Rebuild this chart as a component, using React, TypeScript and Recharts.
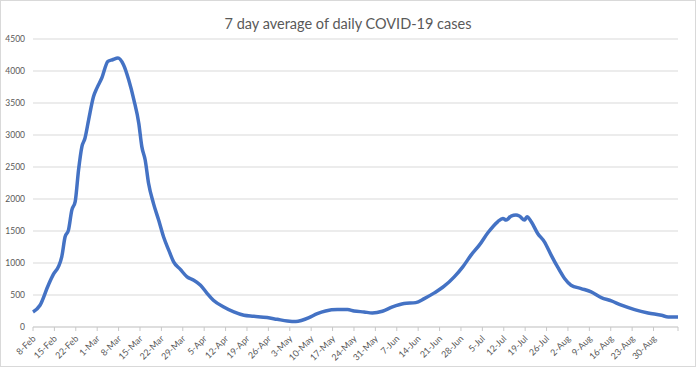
import { LineChart, Line, XAxis, YAxis, CartesianGrid } from "recharts";

// days since 8-Feb at roughly every 2-3 days
const dayOffset = [
  0, 2.3, 5, 6.7, 8.4, 9.4, 10.5, 11.6, 12.7, 13.8, 14.9, 16, 17, 18.2, 19.8,
  20.9, 22.5, 24.5, 26, 27.8, 29.6, 31.3, 33, 34.6, 35.6, 36.7, 37.8, 39.4,
  41.1, 42.7, 44.4, 46, 48.2, 50.4, 52.6, 54.8, 57, 59, 62.4, 65.7, 69, 72.2,
  76.6, 79.9, 83.2, 86, 88, 90.3, 93, 95.7, 99.6, 102.9, 105, 108.3, 111,
  114.3, 117.6, 121.4, 125.2, 128, 131.3, 134.5, 137.8, 140.6, 143.3, 146,
  148.8, 152, 153.7, 154.8, 156.4, 158, 159.1, 160.8, 161.6, 163, 165.1, 167.3,
  169.5, 171.7, 173.9, 176, 179.3, 182.6, 185.9, 189.2, 192.5, 196.8, 201.2,
  205.6, 207.8, 211,
];

const avgCases = [
  235, 340, 653, 825, 950, 1096, 1410, 1514, 1827, 1958, 2454, 2819, 2950,
  3237, 3602, 3733, 3890, 4150, 4176, 4203, 4098, 3863, 3550, 3185, 2819, 2610,
  2246, 1932, 1671, 1410, 1201, 1018, 900, 783, 731, 653, 523, 418, 313, 235,
  183, 168, 147, 120, 94, 85, 105, 147, 210, 251, 272, 272, 251, 235, 220, 246,
  313, 366, 381, 444, 533, 637, 783, 940, 1123, 1279, 1472, 1644, 1697, 1671,
  1734, 1749, 1734, 1671, 1723, 1644, 1462, 1331, 1123, 930, 758, 653, 601, 548,
  460, 407, 340, 272, 220, 183, 157, 157,
];

const tickLabels = [
  "8-Feb", "15-Feb", "22-Feb", "1-Mar", "8-Mar", "15-Mar", "22-Mar", "29-Mar",
  "5-Apr", "12-Apr", "19-Apr", "26-Apr", "3-May", "10-May", "17-May", "24-May",
  "31-May", "7-Jun", "14-Jun", "21-Jun", "28-Jun", "5-Jul", "12-Jul", "19-Jul",
  "26-Jul", "2-Aug", "9-Aug", "16-Aug", "23-Aug", "30-Aug",
];

const yTicks = [0, 500, 1000, 1500, 2000, 2500, 3000, 3500, 4000, 4500];

const lastDay = 211;

const data = dayOffset.map((d, i) => ({ day: d, cases: avgCases[i] }));
const xTicks = [...tickLabels.map((_, i) => i * 7), lastDay];

const font = "Lato, 'Open Sans', sans-serif";
const grey = "#595959";

// rotated date label, its right end sits just below the tick mark
function DateTick(props: any) {
  const { x, y, payload } = props;
  const label = tickLabels[payload.value / 7] ?? "";
  const px = x + 1;
  const py = y + 4;
  return (
    <text
      x={px}
      y={py}
      dy="0.35em"
      textAnchor="end"
      fontSize={9}
      fill={grey}
      fontFamily={font}
      transform={`rotate(-45, ${px}, ${py})`}
    >
      {label}
    </text>
  );
}

export default function App() {
  return (
    <div
      style={{
        position: "relative",
        width: 696,
        height: 367,
        boxSizing: "border-box",
        border: "1px solid #d9d9d9",
        background: "#fff",
        fontFamily: font,
      }}
    >
      <style>{"body{margin:0}"}</style>
      <div
        style={{
          position: "absolute",
          top: 14,
          left: 0,
          width: 694,
          textAlign: "center",
          fontSize: 14.5,
          color: grey,
        }}
      >
        7 day average of daily COVID-19 cases
      </div>
      <div style={{ position: "absolute", left: -1, top: -1 }}>
        <LineChart
          width={696}
          height={367}
          data={data}
          margin={{ top: 39, right: 18, left: 0, bottom: 0 }}
        >
          <CartesianGrid vertical={false} stroke="#d9d9d9" />
          <XAxis
            dataKey="day"
            type="number"
            domain={[0, lastDay]}
            ticks={xTicks}
            interval={0}
            height={40}
            axisLine={{ stroke: "#d0d0d0" }}
            tickLine={{ stroke: "#c8c8c8" }}
            tickSize={4}
            tick={<DateTick />}
          />
          <YAxis
            domain={[0, 4500]}
            ticks={yTicks}
            width={33}
            axisLine={false}
            tickLine={false}
            tick={{ fontSize: 8.5, fill: grey, fontFamily: font }}
          />
          <Line
            type="monotone"
            dataKey="cases"
            stroke="#4472c4"
            strokeWidth={3.5}
            dot={false}
            isAnimationActive={false}
          />
        </LineChart>
      </div>
    </div>
  );
}
